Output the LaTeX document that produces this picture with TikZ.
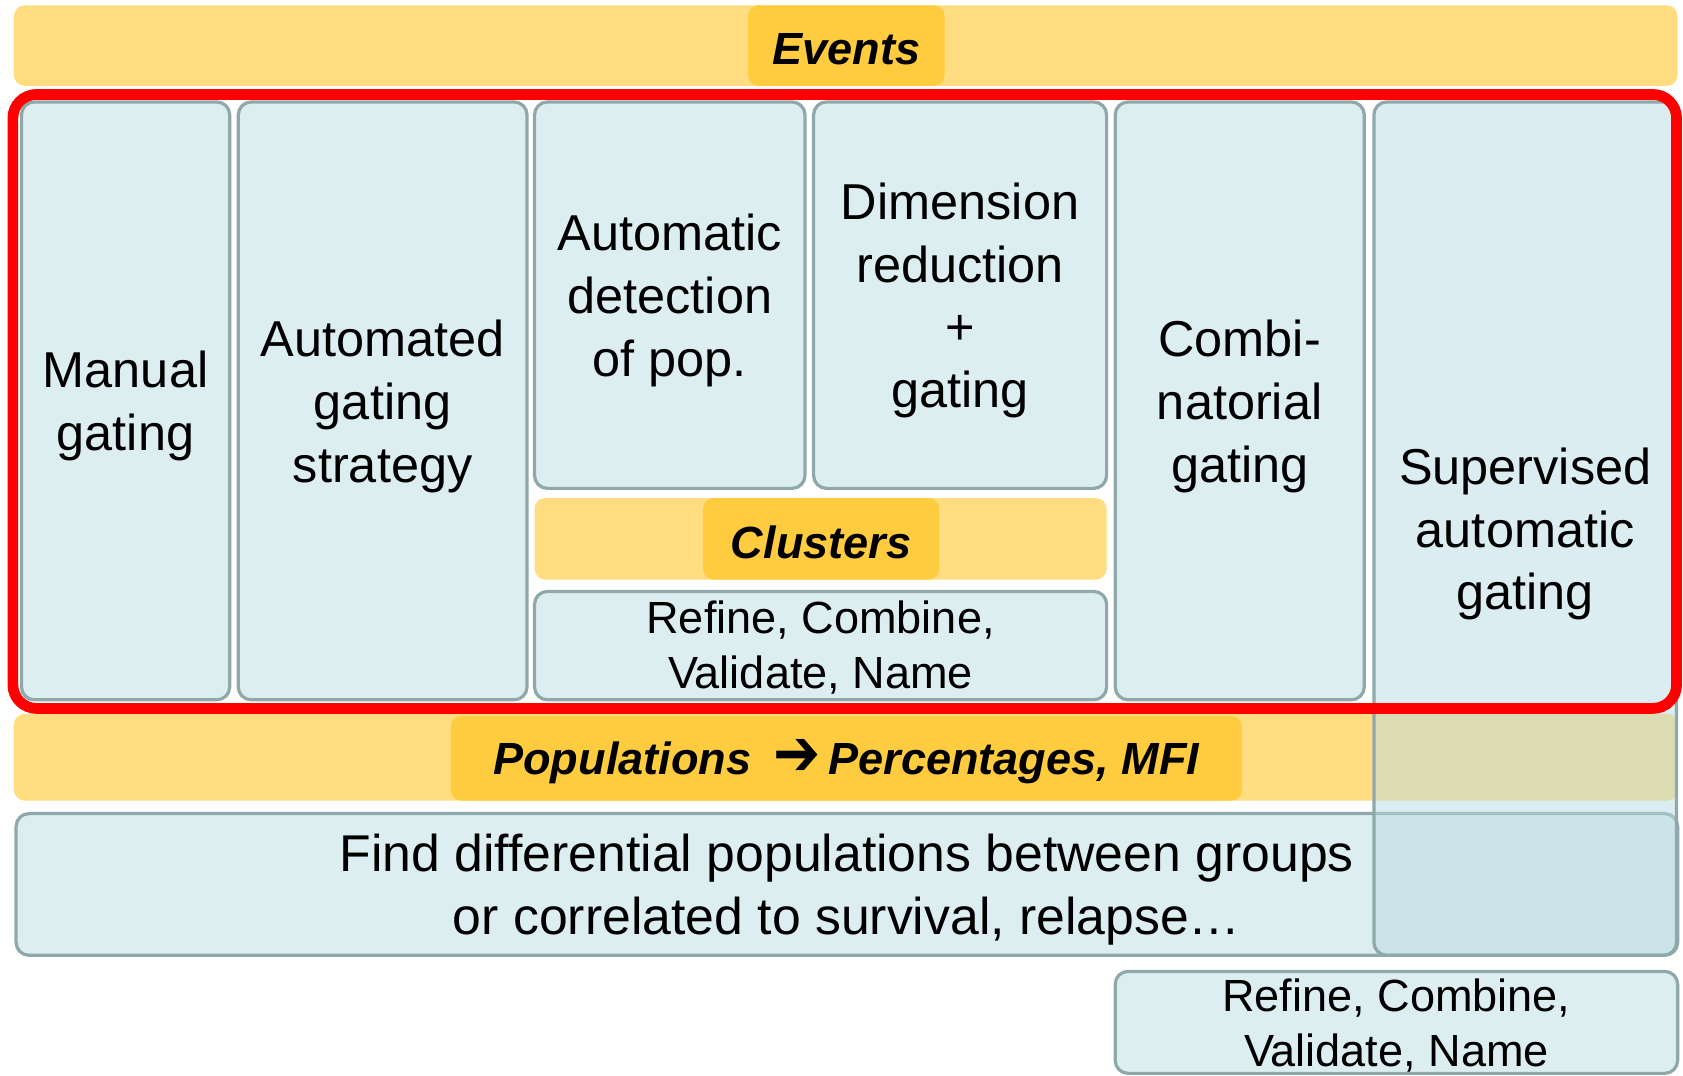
\documentclass[tikz,border=0pt]{standalone}
\usepackage{fontspec}
\setmainfont{Liberation Sans}
\newfontfamily\arrowfont{DejaVu Sans}
\definecolor{barfill}{RGB}{255,221,128}
\definecolor{tabfill}{RGB}{255,204,63}
\definecolor{cellfill}{RGB}{221,238,241}
\definecolor{cellborder}{RGB}{143,169,171}
\definecolor{supfill}{RGB}{184,220,226}
\definecolor{framered}{RGB}{255,0,0}
\newcommand{\mainsize}{\fontsize{47}{58.5}\selectfont}
\newcommand{\smallsize}{\fontsize{42}{51}\selectfont}
\newcommand{\labelsize}{\fontsize{42}{50}\selectfont\bfseries\itshape}
\begin{document}
\begin{tikzpicture}[x=1pt,y=-1pt,
  cell/.style={draw=cellborder, line width=3pt, fill=cellfill,
    rounded corners=12pt, inner sep=0pt},
  supcell/.style={cell, fill=supfill, fill opacity=0.5},
  celltext/.style={inner sep=0pt, align=center, font=\mainsize, yshift=-5pt},
  smalltext/.style={inner sep=0pt, align=center, font=\smallsize},
  bar/.style={fill=barfill, rounded corners=10pt, inner sep=0pt},
  tab/.style={fill=tabfill, rounded corners=10pt, inner sep=0pt},
  tabtext/.style={inner sep=0pt, font=\labelsize, yshift=-3pt},
  frame/.style={draw=framered, line width=10pt, rounded corners=22pt, inner sep=0pt}]
\useasboundingbox (0,0) rectangle (1568,1002);
\clip (0,0) rectangle (1568,1002);
\fill[white] (0,0) rectangle (1568,1002);

% top band
\node[bar, minimum width=1550, minimum height=75] (eventsbar) at (788,42.5) {};
\node[tab, minimum width=183, minimum height=75] (events) at (788.5,42.5) {};
\node[tabtext] (eventstxt) at (events.center) {Events};

% populations band
\node[bar, minimum width=1550, minimum height=81] (popsbar) at (788,705.5) {};
\node[tab, minimum width=737, minimum height=79] (pops) at (788.5,706.5) {};
\node[tabtext] (popstxt) at (pops.center)
  {Populations\enspace\raisebox{-1pt}{\scalebox{1.25}[1.45]{\arrowfont\bfseries\char"2794}}\,Percentages, MFI};

% downstream analysis
\node[cell, minimum width=1548, minimum height=132] (find) at (789,824) {};
\node[celltext, font=\fontsize{48.2}{58.5}\selectfont] (findtxt) at (find.center)
  {Find differential populations between groups\\or correlated to survival, relapse…};

% gating approaches
\node[cell, minimum width=194, minimum height=557] (manual) at (117,373.5) {};
\node[celltext] (manualtxt) at (manual.center) {Manual\\gating};
\node[cell, minimum width=269, minimum height=557] (automated) at (356.5,373.5) {};
\node[celltext] (automatedtxt) at (automated.center) {Automated\\gating\\strategy};
\node[cell, minimum width=252, minimum height=360] (autodet) at (624,275) {};
\node[celltext] (autodettxt) at (autodet.center) {Automatic\\detection\\of pop.};
\node[cell, minimum width=273, minimum height=360] (dimred) at (894.5,275) {};
\node[celltext] (dimredtxt) at (dimred.center) {Dimension\\reduction\\+\\gating};
\node[bar, minimum width=533, minimum height=76] (clustersbar) at (764.5,502) {};
\node[tab, minimum width=220, minimum height=76] (clusters) at (765,502) {};
\node[tabtext] (clusterstxt) at (clusters.center) {Clusters};
\node[cell, minimum width=533, minimum height=101] (refineA) at (764.5,601.5) {};
\node[smalltext, yshift=-2pt] (refineAtxt) at (refineA.center) {Refine, Combine,\\Validate, Name};
\node[cell, minimum width=232, minimum height=557] (combi) at (1155,373.5) {};
\node[celltext] (combitxt) at (combi.center) {Combi-\\natorial\\gating};
\node[supcell, minimum width=282, minimum height=795] (supervised) at (1421,492.5) {};
\node[celltext] (supervisedtxt) at (supervised.center) {Supervised\\automatic\\gating};

% highlight frame
\node[frame, minimum width=1550, minimum height=572] (highlight) at (787,374) {};

% post-processing of supervised gating
\node[cell, minimum width=524, minimum height=95] (refineB) at (1301,952.5) {};
\node[smalltext, yshift=-3pt] (refineBtxt) at (refineB.center) {Refine, Combine,\\Validate, Name};
\end{tikzpicture}
\end{document}
